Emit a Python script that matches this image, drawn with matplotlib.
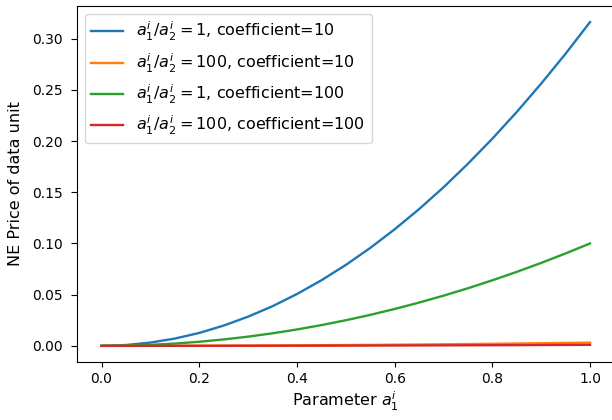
import matplotlib
matplotlib.use("Agg")
import matplotlib.pyplot as plt

x = [0.0, 0.05, 0.1, 0.15, 0.2, 0.25, 0.3, 0.35, 0.4, 0.45, 0.5,
     0.55, 0.6, 0.65, 0.7, 0.75, 0.8, 0.85, 0.9, 0.95, 1.0]
blue = [0.0, 0.0008, 0.0032, 0.0071, 0.0126, 0.0198, 0.0285, 0.0387, 0.0506, 0.064, 0.079,
        0.0956, 0.1138, 0.1335, 0.1548, 0.1778, 0.2023, 0.2284, 0.2561, 0.2853, 0.3162]
orange = [0.0, 0.00001, 0.00003, 0.00007, 0.00013, 0.0002, 0.00028, 0.00039, 0.0005, 0.00064, 0.00079,
          0.00096, 0.00114, 0.00134, 0.00155, 0.00178, 0.00202, 0.00228, 0.00256, 0.00285, 0.00316]
green = [0.0, 0.00025, 0.001, 0.00225, 0.004, 0.00625, 0.009, 0.01225, 0.016, 0.02025, 0.025,
         0.03025, 0.036, 0.04225, 0.049, 0.05625, 0.064, 0.07225, 0.081, 0.09025, 0.1]
red = [0.0, 0.0000025, 0.00001, 0.0000225, 0.00004, 0.0000625, 0.00009, 0.0001225, 0.00016, 0.0002025, 0.00025,
       0.0003025, 0.00036, 0.0004225, 0.00049, 0.0005625, 0.00064, 0.0007225, 0.00081, 0.0009025, 0.001]

labels = [r"$a_1^i/a_2^i=1$, coefficient=10",
          r"$a_1^i/a_2^i=100$, coefficient=10",
          r"$a_1^i/a_2^i=1$, coefficient=100",
          r"$a_1^i/a_2^i=100$, coefficient=100"]

fig = plt.figure(figsize=(6.12, 4.2), dpi=100)
ax = fig.add_axes([0.126, 0.138, 0.878, 0.848])
for y, lab in zip([blue, orange, green, red], labels):
    ax.plot(x, y, label=lab, lw=1.7)
ax.set_xlabel(r"Parameter $a_1^i$", fontsize=11.5, labelpad=3)
ax.set_ylabel("NE Price of data unit", fontsize=11.5, labelpad=7)
ax.tick_params(labelsize=10)
ax.tick_params(axis="y", length=4.5, pad=5.5)
ax.legend(loc="upper left", fontsize=11.5)
fig.savefig("out.png", dpi=100)
